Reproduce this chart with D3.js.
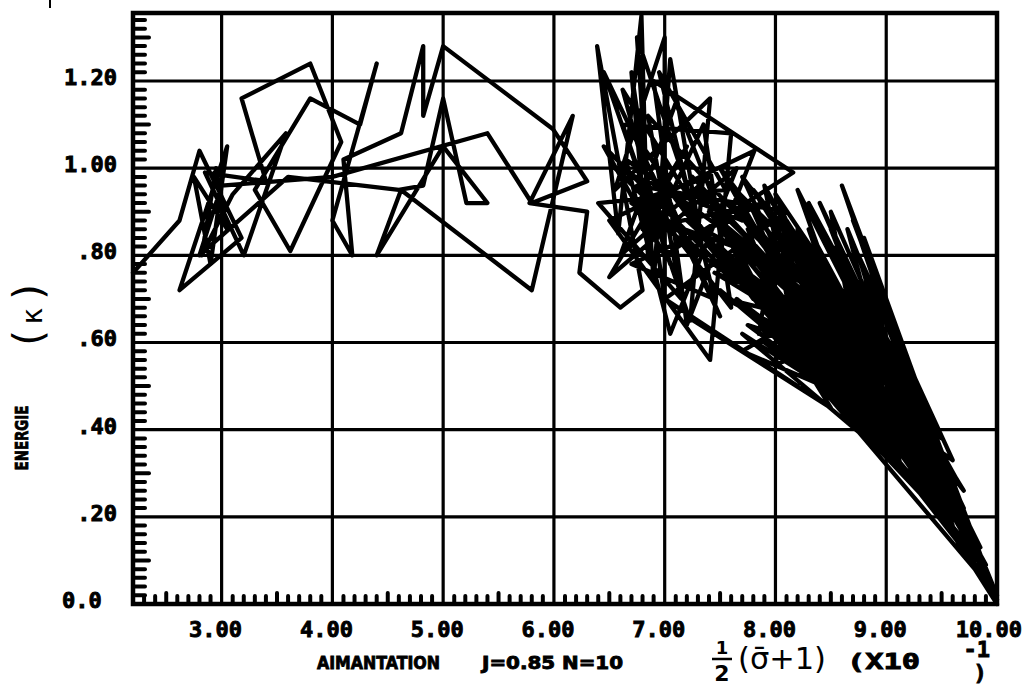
<!DOCTYPE html>
<html>
<head>
<meta charset="utf-8">
<script src="https://cdn.jsdelivr.net/npm/d3@7"></script>
<style>
  body { margin: 0; background: #fff; }
  svg { display: block; }
  .tick-lbl { font-family: "DejaVu Sans Mono", monospace; font-weight: bold; font-size: 22px; fill: #000; stroke: #000; stroke-width: 0.9px; }
  .cap { font-family: "DejaVu Sans Condensed", "DejaVu Sans", sans-serif; font-weight: bold; font-size: 18px; fill: #000; stroke: #000; stroke-width: 0.8px; }
  .hand { font-family: "DejaVu Sans", sans-serif; fill: #000; }
</style>
</head>
<body>
<svg width="1027" height="690"></svg>
<script>
// tick labels as printed on the plot
var xTicks = [3, 4, 5, 6, 7, 8, 9, 10];
var xTickLabels = ["3.00", "4.00", "5.00", "6.00", "7.00", "8.00", "9.00", "10.00"];
var yTicks = [0, 0.2, 0.4, 0.6, 0.8, 1.0, 1.2];
var yTickLabels = ["0.0", ".20", ".40", ".60", ".80", "1.00", "1.20"];

// the trace in stretches (x = 1/2(sigma+1) x10, y = energy)
var traceLeft = [
  [2.20, 0.76], [2.62, 0.88], [2.80, 1.04], [3.18, 0.84], [2.62, 0.72], [3.05, 1.05],
  [2.90, 0.78], [2.75, 0.98], [3.05, 0.86], [2.95, 1.00], [2.82, 0.80], [3.10, 0.94],
  [3.58, 1.08], [3.20, 0.80], [2.85, 0.99], [3.40, 0.97], [3.18, 1.16], [3.80, 1.24],
  [4.08, 1.06], [3.62, 0.81], [3.30, 0.95], [3.80, 1.16], [4.25, 1.10], [4.40, 1.24],
  [4.00, 0.88], [4.18, 0.80], [4.10, 1.02], [4.62, 1.08], [4.82, 1.28], [4.82, 1.12],
  [5.00, 1.28], [5.99, 1.09], [6.30, 0.97], [5.80, 0.92], [5.40, 1.08], [4.00, 0.98],
  [3.00, 0.96], [2.80, 0.80], [3.60, 0.98], [4.60, 0.95], [4.82, 0.96], [5.00, 1.16],
  [5.21, 0.92], [5.40, 0.92], [5.00, 1.05], [4.40, 0.80], [4.62, 0.95], [5.80, 0.72],
  [6.17, 1.12], [5.78, 0.92], [6.30, 0.90], [6.23, 0.76], [6.60, 0.68], [6.80, 0.72]
];
var traceMiddle = [
  [6.39, 1.28], [6.58, 0.85], [6.79, 1.35], [6.85, 0.80], [6.70, 1.22], [7.00, 0.70],
  [7.00, 1.30], [6.55, 0.95], [7.41, 1.16], [7.23, 0.65], [6.62, 1.10], [7.60, 1.08],
  [7.41, 0.56], [6.50, 0.88], [7.81, 1.04], [7.20, 0.64], [6.90, 1.20], [8.16, 0.99],
  [7.00, 0.80], [6.45, 1.05], [7.60, 0.75], [6.70, 0.92], [7.40, 0.98], [6.60, 0.80],
  [7.10, 1.15], [7.80, 0.70], [6.80, 1.05], [7.30, 0.86], [6.95, 0.98], [7.50, 0.66],
  [6.45, 1.22], [7.05, 0.78], [6.62, 1.18], [7.25, 0.92], [6.75, 1.30], [6.90, 0.74],
  [7.05, 1.25], [7.35, 0.80], [6.55, 1.00], [7.70, 0.88], [6.85, 1.12], [7.15, 0.70],
  [6.40, 0.92], [7.55, 0.95], [6.95, 1.22], [7.45, 0.70], [6.70, 0.78], [7.90, 0.92],
  [6.80, 0.86], [7.20, 1.05], [6.50, 0.75], [7.65, 1.00], [7.05, 0.62], [6.65, 1.02],
  [7.85, 0.80], [6.95, 0.88], [7.35, 1.10], [7.60, 0.68], [6.75, 0.96], [8.10, 0.90],
  [7.00, 0.70], [8.20, 0.50], [7.20, 0.66], [8.50, 0.45]
];
var traceBand = [
  [7.30, 0.95], [8.70, 0.60], [7.50, 1.00], [8.50, 0.55], [7.40, 0.90], [8.90, 0.58],
  [7.70, 0.98], [8.40, 0.60], [7.20, 0.88], [8.80, 0.66], [7.60, 0.96], [8.60, 0.52],
  [7.35, 0.84], [8.35, 0.58], [7.80, 0.90], [8.95, 0.50], [7.25, 0.98], [8.55, 0.62],
  [7.65, 0.82], [8.25, 0.52], [7.90, 0.96], [8.75, 0.56], [7.45, 0.76], [8.45, 0.66],
  [8.00, 0.94], [8.85, 0.62], [7.55, 0.70], [8.15, 0.62], [7.75, 0.86], [8.65, 0.64],
  [8.05, 0.80], [8.30, 0.56], [7.95, 0.66], [8.50, 0.70], [7.70, 0.58], [8.80, 0.46],
  [8.20, 0.78], [8.00, 0.55], [8.60, 0.60], [7.85, 0.62]
];
var traceRight = [
  [8.00, 0.85], [9.20, 0.45], [7.70, 0.90], [9.00, 0.38], [8.20, 0.95], [9.50, 0.30],
  [7.60, 0.78], [9.30, 0.40], [8.40, 0.92], [9.70, 0.22], [7.90, 0.80], [9.10, 0.34],
  [8.10, 0.88], [9.60, 0.28], [7.50, 0.72], [8.90, 0.42], [8.30, 0.86], [9.80, 0.15],
  [7.80, 0.66], [9.40, 0.36], [8.60, 0.96], [9.90, 0.08], [7.40, 0.82], [8.80, 0.50],
  [8.50, 0.90], [9.75, 0.18], [7.70, 0.62], [9.05, 0.40], [8.25, 0.80], [9.55, 0.24],
  [7.95, 0.93], [9.35, 0.44], [8.70, 0.88], [9.95, 0.04], [7.55, 0.86], [9.15, 0.48],
  [8.45, 0.78], [9.85, 0.10], [7.85, 0.72], [9.45, 0.26], [8.80, 0.84], [10.0, 0.00],
  [8.15, 0.74], [9.25, 0.32], [7.65, 0.84], [8.95, 0.55], [8.35, 0.70], [9.65, 0.20],
  [8.05, 0.68], [9.50, 0.38], [8.55, 0.82], [9.90, 0.06], [7.75, 0.76], [9.00, 0.52],
  [8.65, 0.86], [10.0, 0.02], [8.00, 0.62], [9.60, 0.33], [8.75, 0.80], [9.10, 0.50],
  [7.60, 0.92], [9.45, 0.30], [7.90, 0.70], [9.20, 0.36], [8.20, 0.86], [9.70, 0.20],
  [7.45, 0.88], [9.00, 0.60], [8.30, 0.62], [9.55, 0.22], [7.80, 0.95], [9.30, 0.48],
  [8.10, 0.58], [9.80, 0.12], [8.50, 0.86], [9.35, 0.30], [7.70, 0.74], [9.65, 0.24],
  [8.40, 0.76], [9.05, 0.35], [7.95, 0.88], [9.50, 0.34], [8.20, 0.55], [9.75, 0.16],
  [8.65, 0.78], [9.15, 0.30], [7.55, 0.80], [9.40, 0.40], [8.30, 0.92], [9.85, 0.13],
  [8.00, 0.76], [9.25, 0.42], [8.45, 0.50], [9.60, 0.26], [7.65, 0.70], [8.95, 0.45],
  [8.60, 0.70], [9.45, 0.22], [7.85, 0.86], [9.70, 0.26], [8.35, 0.82], [9.10, 0.40],
  [8.75, 0.62], [9.90, 0.09], [8.15, 0.82], [9.55, 0.30], [7.75, 0.64], [9.20, 0.52],
  [8.55, 0.66], [9.95, 0.05], [8.05, 0.90], [9.35, 0.36], [8.85, 0.72], [9.60, 0.18],
  [8.25, 0.66], [9.00, 0.46], [7.50, 0.82], [9.40, 0.28], [8.70, 0.74], [10.0, 0.01],
  [8.45, 0.84], [9.30, 0.34], [7.90, 0.60], [9.65, 0.28], [8.60, 0.76], [9.15, 0.44],
  [8.10, 0.72], [9.80, 0.10], [8.90, 0.66], [9.50, 0.26], [8.30, 0.74], [10.0, 0.00]
];

var svg = d3.select("svg");

var x = d3.scaleLinear().domain([2.2, 10.0]).range([133, 997]);
var y = d3.scaleLinear().domain([0, 1.356]).range([604, 13]);

var x0 = x.range()[0], x1 = x.range()[1],
    y0 = y.range()[0], y1 = y.range()[1];

// grid
var grid = svg.append("g").attr("stroke", "#000").attr("stroke-width", 3.2);
grid.selectAll("line.v")
  .data(xTicks.slice(0, -1))
  .enter().append("line")
    .attr("x1", d => x(d)).attr("x2", d => x(d))
    .attr("y1", y1).attr("y2", y0);
grid.selectAll("line.h")
  .data(yTicks.slice(1))
  .enter().append("line")
    .attr("x1", x0).attr("x2", x1)
    .attr("y1", d => y(d)).attr("y2", d => y(d));

// minor ticks, drawn inside the frame
var yMinor = d3.range(1, 68).map(i => i * 0.02).filter(v => Math.abs(v * 5 - Math.round(v * 5)) > 1e-6);
var xMinor = d3.range(23, 100).map(i => i / 10).filter(v => Math.abs(v - Math.round(v)) > 1e-6);

var ticks = svg.append("g").attr("stroke", "#000").attr("stroke-width", 4).attr("stroke-linecap", "round");
ticks.selectAll("line.ym")
  .data(yMinor)
  .enter().append("line")
    .attr("x1", x0).attr("x2", d => x0 + (Math.abs(d * 10 - Math.round(d * 10)) < 1e-6 ? 16 : 12))
    .attr("y1", d => y(d)).attr("y2", d => y(d));
ticks.selectAll("line.xm")
  .data(xMinor)
  .enter().append("line")
    .attr("x1", d => x(d)).attr("x2", d => x(d))
    .attr("y1", y0).attr("y2", d => y0 - (Math.abs(d * 2 - Math.round(d * 2)) < 1e-6 ? 11 : 8));

// the trace
var line = d3.line().x(d => x(d[0])).y(d => y(d[1]));
var trace = traceLeft.concat(traceMiddle, traceBand, traceRight);
svg.append("path")
  .datum(trace)
  .attr("d", line)
  .attr("fill", "none")
  .attr("stroke", "#000")
  .attr("stroke-width", 4.3)
  .attr("stroke-linejoin", "round")
  .attr("stroke-linecap", "round");

// frame
svg.append("rect")
  .attr("x", x0).attr("y", y1)
  .attr("width", x1 - x0).attr("height", y0 - y1)
  .attr("fill", "none").attr("stroke", "#000").attr("stroke-width", 4.5);

// tick labels
svg.selectAll("text.yl")
  .data(yTicks)
  .enter().append("text")
    .attr("class", "tick-lbl")
    .attr("x", (d, i) => i === 0 ? 62 : 117)
    .attr("y", d => y(d) - 4)
    .attr("dy", "0.36em")
    .attr("text-anchor", (d, i) => i === 0 ? "start" : "end")
    .text((d, i) => yTickLabels[i]);

svg.selectAll("text.xl")
  .data(xTicks)
  .enter().append("text")
    .attr("class", "tick-lbl")
    .attr("x", (d, i) => i === xTicks.length - 1 ? 1022 : x(d) - 6)
    .attr("y", 629)
    .attr("dy", "0.36em")
    .attr("text-anchor", (d, i) => i === xTicks.length - 1 ? "end" : "middle")
    .text((d, i) => xTickLabels[i]);

// captions
svg.append("text").attr("class", "cap")
  .attr("x", 317).attr("y", 669)
  .attr("textLength", 123).attr("lengthAdjust", "spacingAndGlyphs")
  .text("AIMANTATION");
svg.append("text").attr("class", "cap")
  .attr("x", 482).attr("y", 669)
  .attr("textLength", 141).attr("lengthAdjust", "spacingAndGlyphs")
  .text("J=0.85 N=10");

svg.append("text").attr("class", "cap")
  .attr("transform", "translate(28,438) rotate(-90)")
  .attr("text-anchor", "middle")
  .attr("font-size", 21)
  .attr("textLength", 65).attr("lengthAdjust", "spacingAndGlyphs")
  .text("ENERGIE");

var kappa = svg.append("text").attr("class", "hand")
  .attr("transform", "translate(42,315) rotate(-90)")
  .attr("text-anchor", "middle");
kappa.append("tspan").attr("font-size", 40).text("(");
kappa.append("tspan").attr("font-size", 28).attr("dx", 6).text("κ");
kappa.append("tspan").attr("font-size", 40).attr("dx", 8).text(")");

// 1/2 (sigma bar + 1)
svg.append("text").attr("class", "hand")
  .attr("x", 722).attr("y", 654).attr("text-anchor", "middle")
  .attr("font-size", 18).attr("font-weight", "bold").text("1");
svg.append("line")
  .attr("x1", 712).attr("x2", 732).attr("y1", 659).attr("y2", 659)
  .attr("stroke", "#000").attr("stroke-width", 2.5);
svg.append("text").attr("class", "hand")
  .attr("x", 722).attr("y", 681).attr("text-anchor", "middle")
  .attr("font-size", 22).attr("font-weight", "bold").text("2");
svg.append("text").attr("class", "hand")
  .attr("x", 738).attr("y", 669)
  .attr("font-size", 30)
  .attr("textLength", 88).attr("lengthAdjust", "spacingAndGlyphs")
  .text("(σ\u0304+1)");

svg.append("text").attr("class", "tick-lbl")
  .attr("x", 847).attr("y", 669)
  .attr("textLength", 73).attr("lengthAdjust", "spacingAndGlyphs")
  .text("(X10");
svg.append("text").attr("class", "tick-lbl")
  .attr("x", 990).attr("y", 657).attr("text-anchor", "end")
  .attr("font-size", 15).text("-1");
svg.append("text").attr("class", "tick-lbl")
  .attr("x", 980).attr("y", 680).attr("text-anchor", "middle")
  .attr("font-size", 17).text(")");

// small stray mark at the top left of the sheet
svg.append("line")
  .attr("x1", 50).attr("x2", 50).attr("y1", 0).attr("y2", 8)
  .attr("stroke", "#000").attr("stroke-width", 2);
</script>
</body>
</html>
